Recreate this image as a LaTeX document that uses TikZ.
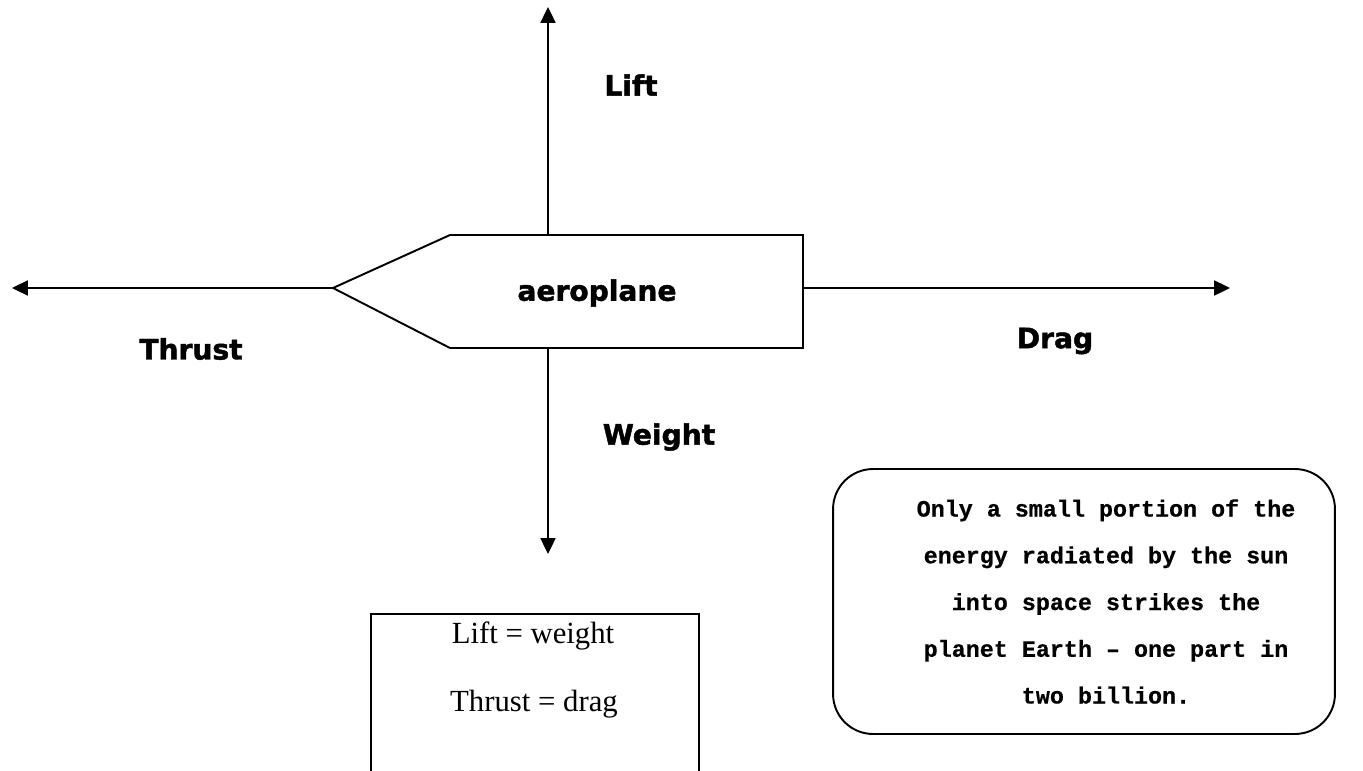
\documentclass[tikz,border=0pt]{standalone}
\usepackage{fontspec}
\setmainfont{Liberation Serif}
\newfontfamily\forcefont{DejaVu Sans}[BoldFeatures={FakeBold=1.6}]
\newfontfamily\notefont{Liberation Mono}[BoldFeatures={FakeBold=0.6}]
\usetikzlibrary{arrows.meta}

\tikzset{
  force/.style={line width=1.1pt, -{Triangle[length=9pt,width=8.5pt]}},
  forcelabel/.style={inner sep=0pt, font=\forcefont\bfseries\fontsize{16}{19}\selectfont},
  body/.style={draw, line width=1.1pt, line join=miter},
  eqn/.style={inner sep=0pt, font=\fontsize{17.5}{21}\selectfont},
  notebox/.style={draw, line width=1.1pt, rounded corners=0.8cm, minimum width=10.04cm, minimum height=5.3cm, inner sep=0pt},
  notetext/.style={inner sep=0pt, align=center, font=\notefont\bfseries\fontsize{13.3}{26.6}\selectfont}
}

\begin{document}
\begin{tikzpicture}[x=0.02cm, y=-0.02cm]
    \clip (0,0) rectangle (1363,771);
    % the aeroplane
    \draw[body] (333,288) coordinate (nose) -- (450,235) -- (803,235) -- (803,348) -- (450,348) -- cycle;
    \node[forcelabel] (plane) at (597,293) {aeroplane};
    \coordinate (top) at (548,235);
    \coordinate (bottom) at (548,348);
    \coordinate (tail) at (803,288);
    % arrow ends
    \coordinate (liftend) at (548,7);
    \coordinate (weightend) at (548,554);
    \coordinate (thrustend) at (12,288);
    \coordinate (dragend) at (1230,288);
        \draw[force] (top) -- (liftend);
        \draw[force] (bottom) -- (weightend);
        \draw[force] (nose) -- (thrustend);
        \draw[force] (tail) -- (dragend);
    % labels
    \node[forcelabel] (lift) at (631,85) {Lift};
    \node[forcelabel] (weight) at (659,437) {Weight};
    \node[forcelabel] (thrust) at (191,349) {Thrust};
    \node[forcelabel] (drag) at (1055,341) {Drag};
    % balance box
    \node[draw, line width=1.1pt, minimum width=6.56cm, minimum height=4cm, anchor=north] (balance) at (535,613) {};
    \node[eqn] (eq1) at (533,636) {Lift = weight};
    \node[eqn] (eq2) at (534,704) {Thrust = drag};
    % note
    \node[notebox] (note) at (1084,601.5) {};
    \node[notetext] (fact) at (1106,601.5) {Only a small portion of the\\energy radiated by the sun\\into space strikes the\\planet Earth – one part in\\two billion.};
\end{tikzpicture}
\end{document}
